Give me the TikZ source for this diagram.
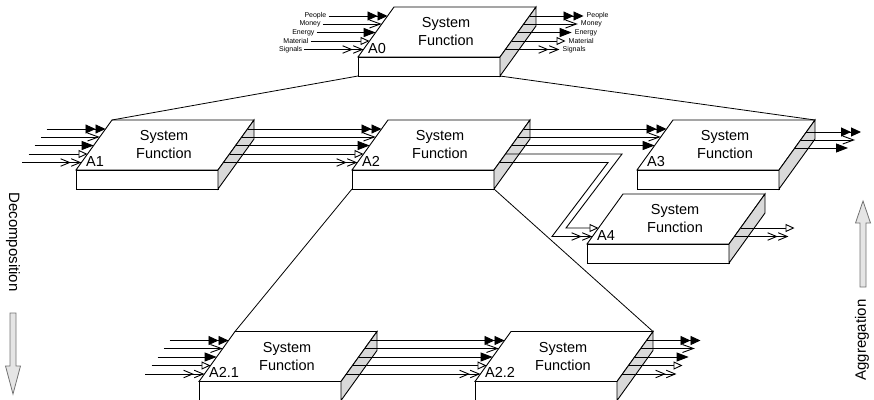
\documentclass[tikz,border=0pt]{standalone}
\usepackage{fontspec}
\setmainfont{Liberation Sans}
\usetikzlibrary{arrows.meta}

\begin{document}
\begin{tikzpicture}[x=1pt,y=-1pt,line join=miter,
  blockface/.style={draw=black,fill=white,line width=0.9pt},
  blockside/.style={draw=black,fill=black!15,line width=0.9pt},
  fnlabel/.style={font=\fontsize{14.5}{18}\selectfont,align=center,inner sep=0pt},
  idlabel/.style={font=\fontsize{14.5}{16}\selectfont,anchor=base west,inner sep=0pt},
  flowname/.style={font=\fontsize{7}{8}\selectfont,inner sep=1pt},
  sidetext/.style={font=\fontsize{15}{18}\selectfont,inner sep=0pt},
  link/.style={line width=0.8pt},
  flow/.style={line width=0.9pt},
  fpeople/.style={flow,-{Triangle[length=10pt,width=9pt]Triangle[length=10pt,width=9pt]}},
  fmoney/.style={flow,-{Straight Barb[length=11pt,width=8pt]}},
  fenergy/.style={flow,-{Triangle[length=12pt,width=9pt]}},
  fmaterial/.style={flow,-{Triangle[open,length=9pt,width=8pt,fill=white]}},
  fsignals/.style={flow,-{Straight Barb[length=9pt,width=7.5pt]Straight Barb[length=9pt,width=7.5pt]}},
  bigarrow/.style={draw=black!55,fill=black!10,line width=0.8pt},
  sysblock/.pic={
    % corners of the box
    \coordinate (-tl) at (36,-50);
    \coordinate (-tr) at (178,-50);
    \coordinate (-fbl) at (0,19);
    \coordinate (-fbr) at (142,19);
    % top face, front face and shaded side face
    \path[blockface] (0,0) -- (142,0) -- (178,-50) -- (36,-50) -- cycle;
    \path[blockface] (0,0) rectangle (142,19);
    \path[blockside] (142,0) -- (178,-50) -- (178,-31) -- (142,19) -- cycle;
    \node[fnlabel] (-txt) at (88,-25) {System\\Function};
    \node[idlabel] (-id) at (10,-4) {#1};
    % flow attachment points on the slanted edges
    \foreach \i/\d in {1/-41,2/-33,3/-24.5,4/-16,5/-7.5}{
      \coordinate (-in\i) at ({-0.72*\d},\d);
      \coordinate (-out\i) at ({142-0.72*\d},\d);
      \coordinate (-src\i) at ({-0.72*\d-59},\d);
      \coordinate (-dst\i) at ({142-0.72*\d+54},\d);
    }
  }
]
\useasboundingbox (0,0) rectangle (874,399);

% blocks
\pic (A0) at (358,57) {sysblock=A0};
\pic (A1) at (76,170) {sysblock=A1};
\pic (A2) at (352,170) {sysblock=A2};
\pic (A3) at (637,170) {sysblock=A3};
\pic (A4) at (587,244) {sysblock=A4};
\pic (A21) at (199,381.5) {sysblock=A2.1};
\pic (A22) at (475,381.5) {sysblock=A2.2};

% decomposition links
\draw[link] (A0-fbl) -- (A1-tl);
\draw[link] (A0-fbr) -- (A3-tr);
\draw[link] (A2-fbl) -- (A21-tl);
\draw[link] (A2-fbr) -- (A22-tr);

% A0 flows with their names
\foreach \i/\s/\t in {1/fpeople/People,2/fmoney/Money,3/fenergy/Energy,4/fmaterial/Material,5/fsignals/Signals}{
  \draw[\s] (A0-src\i) -- (A0-in\i);
  \draw[\s] (A0-out\i) -- (A0-dst\i);
  \node[flowname,anchor=east] (A0-inname\i) at ([xshift=-1pt]A0-src\i) {\t};
  \node[flowname,anchor=west] (A0-outname\i) at ([xshift=2pt]A0-dst\i) {\t};
}

% A1 inputs and A1 -> A2
\foreach \i/\s in {1/fpeople,2/fmoney,3/fenergy,4/fmaterial,5/fsignals}{
  \draw[\s] (A1-src\i) -- (A1-in\i);
  \draw[\s] (A1-out\i) -- (A2-in\i);
}

% A2 -> A3
\foreach \i/\s in {1/fpeople,2/fmoney,3/fenergy}{
  \draw[\s] (A2-out\i) -- (A3-in\i);
}

% A2 -> A4 (material and signals)
\coordinate (mA) at (622,154);
\coordinate (mB) at (566,228);
\coordinate (sA) at (608,162.5);
\coordinate (sB) at (552,236.5);
\draw[fmaterial] (A2-out4) -- (mA) -- (mB) -- (A4-in4);
\draw[fsignals] (A2-out5) -- (sA) -- (sB) -- (A4-in5);

% A3 outputs
\coordinate (A3-o1) at (806.4,132);
\coordinate (A3-o2) at (800.6,140);
\coordinate (A3-o3) at (794.8,148);
\coordinate (A3-e1) at (861,132);
\coordinate (A3-e2) at (855,140);
\coordinate (A3-e3) at (848,148);
\draw[fpeople] (A3-o1) -- (A3-e1);
\draw[fmoney] (A3-o2) -- (A3-e2);
\draw[fenergy] (A3-o3) -- (A3-e3);

% A4 outputs
\draw[fmaterial] (A4-out4) -- (A4-dst4);
\draw[fsignals] (A4-out5) -- (A4-dst5);

% A2.1 inputs, A2.1 -> A2.2, A2.2 outputs
\foreach \i/\s in {1/fpeople,2/fmoney,3/fenergy,4/fmaterial,5/fsignals}{
  \draw[\s] (A21-src\i) -- (A21-in\i);
  \draw[\s] (A21-out\i) -- (A22-in\i);
  \draw[\s] (A22-out\i) -- (A22-dst\i);
}

% direction markers
\path[bigarrow] (10,313) -- (16,313) -- (16,366) -- (20.5,366) -- (13,394)
  -- (5.5,366) -- (10,366) -- cycle;
\node[sidetext,rotate=-90] (decomp) at (13,242) {Decomposition};
\path[bigarrow] (860,287) -- (866,287) -- (866,223) -- (870.5,223) -- (863,201)
  -- (855.5,223) -- (860,223) -- cycle;
\node[sidetext,rotate=90] (aggr) at (862,340) {Aggregation};
\end{tikzpicture}
\end{document}
